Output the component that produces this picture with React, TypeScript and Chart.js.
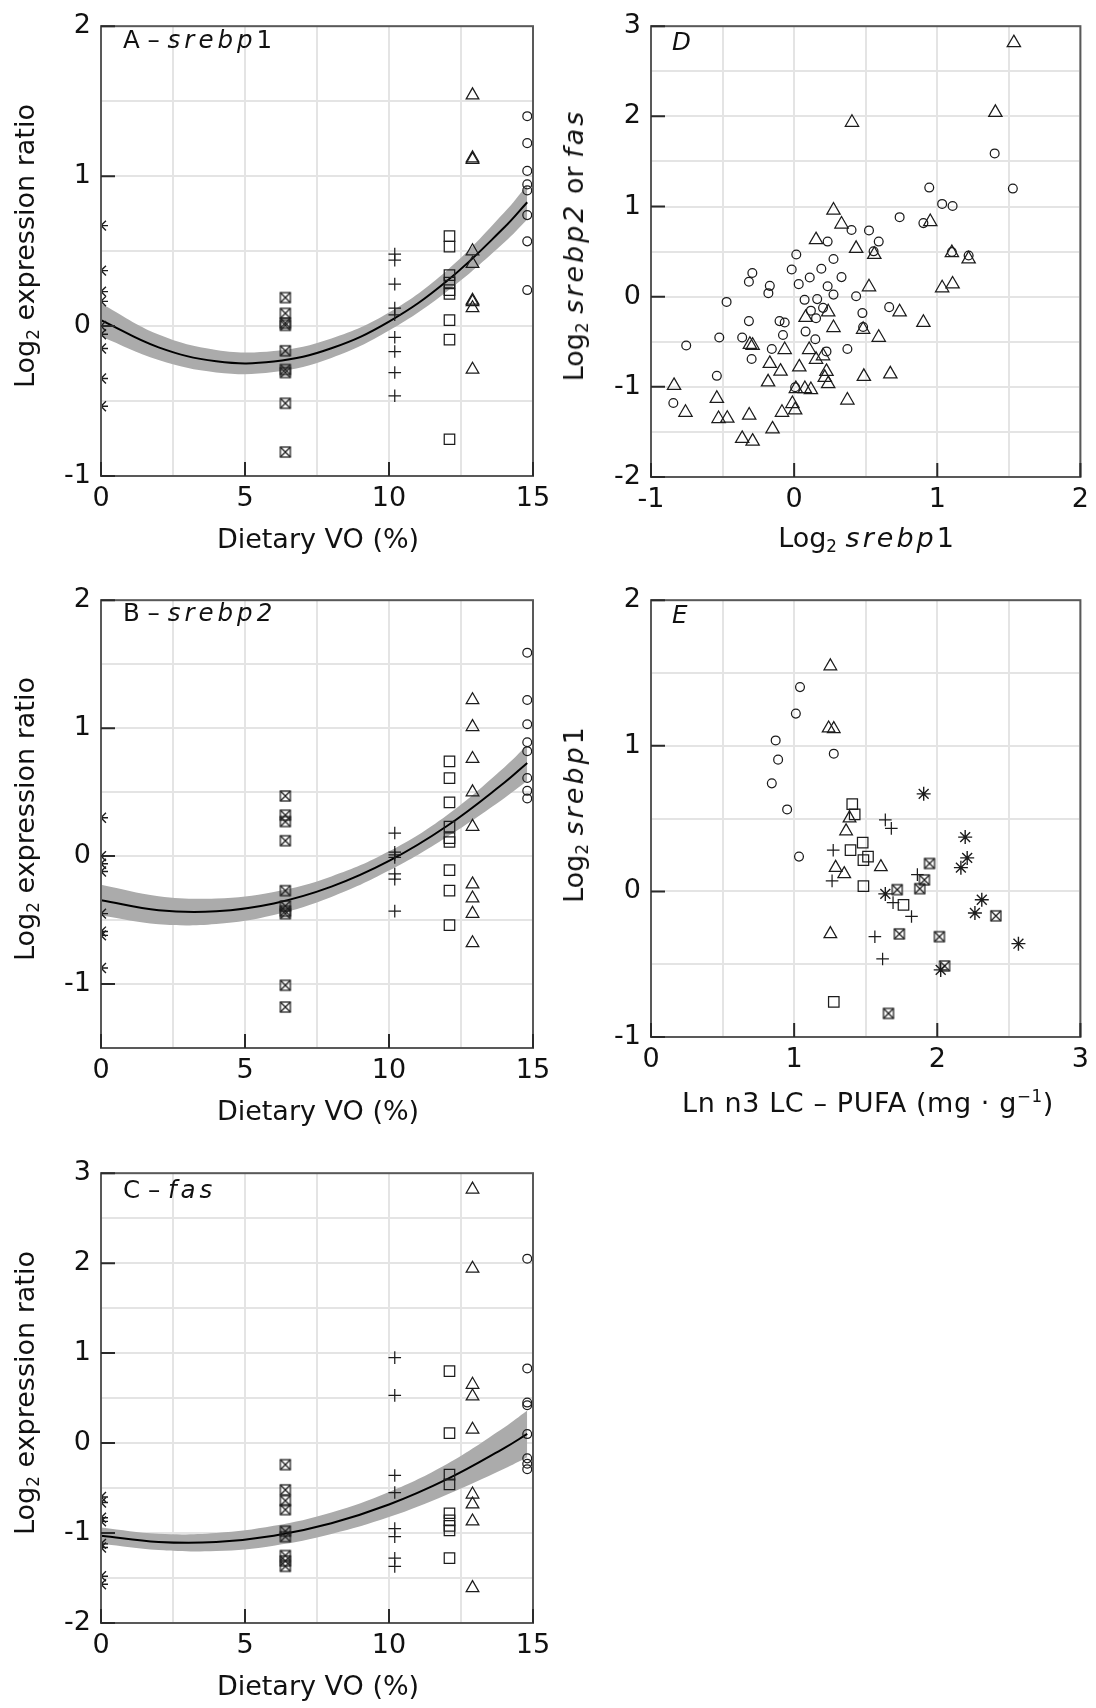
import React, { useEffect, useRef } from "react";
import { Chart, registerables } from "chart.js";

Chart.register(...registerables);

const FONT = '"DejaVu Sans", Verdana, sans-serif';
const INK = "#1c1c1c";

// ---------- shared ----------
// dietary vegetable-oil level (%) of the six diet groups
const VO_LEVELS = [0, 6.4, 10.2, 12.1, 12.9, 14.8];
// marker of each diet group (same order as VO_LEVELS)
const GROUP_MARKERS = ["star", "xsquare", "cross", "rect", "triangle", "circle"];
// x values of the fitted quadratic curve and its confidence band
const FIT_X = [0, 2, 4, 6, 8, 10, 12, 14, 14.8];

// ---------- Panel A: srebp1 ----------
const A_VO0 = [0.67, 0.37, 0.23, 0.165, 0.0, -0.055, -0.15, -0.35, -0.535];
const A_VO64 = [0.19, 0.085, 0.02, 0.005, -0.165, -0.29, -0.31, -0.515, -0.84];
const A_VO102 = [0.48, 0.44, 0.28, 0.12, 0.075, -0.075, -0.17, -0.31, -0.465];
const A_VO121 = [0.6, 0.53, 0.34, 0.29, 0.24, 0.215, 0.04, -0.09, -0.755];
const A_VO129 = [1.54, 1.12, 1.11, 0.5, 0.415, 0.17, 0.16, 0.12, -0.29];
const A_VO148 = [1.4, 1.22, 1.035, 0.945, 0.905, 0.74, 0.565, 0.24];
const A_FIT = [0.04, -0.142, -0.234, -0.237, -0.148, 0.03, 0.299, 0.657, 0.826];
const A_UPPER = [0.15, -0.057, -0.159, -0.167, -0.083, 0.09, 0.369, 0.757, 0.941];
const A_LOWER = [-0.07, -0.227, -0.309, -0.307, -0.213, -0.03, 0.229, 0.557, 0.711];

// ---------- Panel B: srebp2 ----------
const B_VO0 = [0.3, 0.0, -0.06, -0.12, -0.45, -0.59, -0.62, -0.875];
const B_VO64 = [0.47, 0.32, 0.27, 0.12, -0.27, -0.39, -0.43, -0.45, -1.01, -1.18];
const B_VO102 = [0.18, 0.03, 0.01, -0.01, -0.14, -0.18, -0.43];
const B_VO121 = [0.74, 0.61, 0.42, 0.23, 0.14, 0.11, -0.11, -0.27, -0.54];
const B_VO129 = [1.22, 1.01, 0.76, 0.5, 0.23, -0.22, -0.33, -0.45, -0.68];
const B_VO148 = [1.59, 1.22, 1.03, 0.89, 0.82, 0.61, 0.51, 0.45];
const B_FIT = [-0.345, -0.423, -0.431, -0.37, -0.239, -0.038, 0.233, 0.573, 0.728];
const B_UPPER = [-0.225, -0.313, -0.331, -0.28, -0.159, 0.037, 0.318, 0.693, 0.868];
const B_LOWER = [-0.465, -0.533, -0.531, -0.46, -0.319, -0.113, 0.148, 0.453, 0.588];

// ---------- Panel C: fas ----------
const C_VO0 = [-0.6, -0.66, -0.83, -0.87, -1.12, -1.16, -1.48, -1.57];
const C_VO64 = [-0.24, -0.52, -0.64, -0.74, -0.98, -1.04, -1.25, -1.31, -1.37];
const C_VO102 = [0.95, 0.53, -0.36, -0.55, -0.95, -1.04, -1.28, -1.37];
const C_VO121 = [0.8, 0.11, -0.35, -0.46, -0.78, -0.86, -0.92, -0.97, -1.28];
const C_VO129 = [2.82, 1.94, 0.65, 0.52, 0.15, -0.57, -0.68, -0.87, -1.61];
const C_VO148 = [2.05, 0.83, 0.45, 0.42, 0.1, -0.17, -0.23, -0.29];
const C_FIT = [-1.029, -1.099, -1.1, -1.03, -0.891, -0.683, -0.404, -0.056, 0.102];
const C_UPPER = [-0.939, -1.009, -1.0, -0.92, -0.771, -0.543, -0.234, 0.174, 0.362];
const C_LOWER = [-1.119, -1.189, -1.2, -1.14, -1.011, -0.823, -0.574, -0.286, -0.158];

// ---------- Panel D: srebp2 (circles) and fas (triangles) vs srebp1 ----------
const D_SREBP1_C = [1.401, 1.528, 0.944, 1.034, 1.107, 0.737, 0.903, 0.401, 0.523, 0.591, 0.234, 0.555, 0.015, 0.275, 1.102, 1.219, -0.292, -0.316, -0.017, 0.19, 0.109, 0.331, -0.17, -0.18, 0.032, 0.234, 0.275, 0.433, -0.472, 0.073, 0.161, 0.117, 0.202, 0.664, 0.477, -0.316, -0.102, -0.066, 0.153, 0.482, 0.08, -0.523, -0.363, -0.078, 0.148, -0.754, -0.156, 0.372, 0.226, -0.297, -0.54, 0.007, -0.844];
const D_SREBP2 = [1.589, 1.199, 1.21, 1.029, 1.005, 0.882, 0.816, 0.739, 0.735, 0.611, 0.611, 0.503, 0.468, 0.418, 0.495, 0.456, 0.263, 0.166, 0.302, 0.309, 0.213, 0.217, 0.12, 0.039, 0.139, 0.116, 0.023, 0.004, -0.058, -0.035, -0.027, -0.155, -0.124, -0.116, -0.182, -0.271, -0.271, -0.286, -0.24, -0.336, -0.387, -0.452, -0.452, -0.425, -0.472, -0.541, -0.58, -0.58, -0.607, -0.692, -0.878, -1.005, -1.179];
const D_SREBP1_T = [1.535, 1.406, 0.404, 0.275, 0.331, 0.153, 0.433, 0.56, 0.951, 1.102, 1.219, 1.034, 1.107, 0.523, 0.737, 0.903, 0.238, 0.08, 0.275, 0.482, 0.591, -0.309, -0.29, -0.066, 0.105, 0.153, 0.202, -0.17, 0.036, -0.095, 0.226, 0.214, -0.182, 0.238, 0.487, 0.672, -0.839, 0.012, 0.075, 0.117, 0.372, -0.54, -0.759, -0.314, -0.528, -0.467, -0.085, -0.012, 0.007, -0.151, -0.363, -0.29];
const D_FAS = [2.815, 2.042, 1.933, 0.959, 0.804, 0.63, 0.534, 0.468, 0.831, 0.487, 0.418, 0.097, 0.139, 0.108, -0.17, -0.286, -0.17, -0.232, -0.344, -0.363, -0.452, -0.53, -0.541, -0.588, -0.588, -0.696, -0.657, -0.742, -0.781, -0.828, -0.831, -0.897, -0.947, -0.967, -0.886, -0.858, -0.986, -1.021, -1.021, -1.032, -1.148, -1.129, -1.284, -1.315, -1.353, -1.35, -1.284, -1.187, -1.257, -1.469, -1.574, -1.605];

// ---------- Panel E: srebp1 vs ln n3 LC-PUFA, per diet group ----------
const E_X_VO0 = [1.905, 2.195, 2.209, 2.165, 1.637, 2.311, 2.263, 2.024, 2.567];
const E_Y_VO0 = [0.67, 0.373, 0.23, 0.163, -0.017, -0.057, -0.148, -0.539, -0.359];
const E_X_VO64 = [1.946, 1.91, 1.878, 1.72, 1.735, 2.015, 2.051, 2.409, 1.659];
const E_Y_VO64 = [0.192, 0.079, 0.019, 0.012, -0.292, -0.311, -0.512, -0.168, -0.838];
const E_X_VO102 = [1.273, 1.265, 1.637, 1.679, 1.861, 1.691, 1.82, 1.564, 1.618];
const E_Y_VO102 = [0.283, 0.072, 0.491, 0.433, 0.115, -0.077, -0.172, -0.311, -0.464];
const E_X_VO121 = [1.406, 1.423, 1.479, 1.394, 1.516, 1.484, 1.484, 1.764, 1.277];
const E_Y_VO121 = [0.599, 0.529, 0.335, 0.283, 0.239, 0.215, 0.036, -0.093, -0.759];
const E_X_VO129 = [1.253, 1.241, 1.277, 1.387, 1.363, 1.29, 1.35, 1.606, 1.253];
const E_Y_VO129 = [1.547, 1.12, 1.116, 0.503, 0.414, 0.163, 0.12, 0.168, -0.292];
const E_X_VO148 = [1.041, 1.012, 0.871, 0.888, 0.844, 1.277, 0.951, 1.034];
const E_Y_VO148 = [1.403, 1.221, 1.037, 0.905, 0.742, 0.946, 0.563, 0.239];

// ---------- tick labels ----------
const X_LABELS_VO = [0, 5, 10, 15];
const Y_LABELS_A = [-1, 0, 1, 2];
const Y_LABELS_B = [-1, 0, 1, 2];
const Y_LABELS_C = [-2, -1, 0, 1, 2, 3];
const X_LABELS_D = [-1, 0, 1, 2];
const Y_LABELS_D = [-2, -1, 0, 1, 2, 3];
const X_LABELS_E = [0, 1, 2, 3];
const Y_LABELS_E = [-1, 0, 1, 2];

// ---------- helpers ----------
let xSquareImg: HTMLCanvasElement | null = null;
function crossedSquare() {
  if (xSquareImg) return xSquareImg;
  const c = document.createElement("canvas");
  c.width = 14;
  c.height = 14;
  const g = c.getContext("2d")!;
  g.strokeStyle = INK;
  g.lineWidth = 1.25;
  g.strokeRect(2, 2, 10, 10);
  g.beginPath();
  g.moveTo(2, 2);
  g.lineTo(12, 12);
  g.moveTo(12, 2);
  g.lineTo(2, 12);
  g.stroke();
  xSquareImg = c;
  return c;
}

function markerProps(kind: string, big = false) {
  switch (kind) {
    case "star":
      return { pointStyle: "star", pointRadius: 7 };
    case "xsquare":
      return { pointStyle: crossedSquare(), pointRadius: 7 };
    case "cross":
      return { pointStyle: "cross", pointRadius: 6.3 };
    case "rect":
      return { pointStyle: "rect", pointRadius: 7.4 };
    case "triangle":
      return { pointStyle: "triangle", pointRadius: big ? 7.7 : 7.3 };
    default:
      return { pointStyle: "circle", pointRadius: 4.4 };
  }
}

function scatterSet(points: { x: number; y: number }[], kind: string, big = false) {
  return {
    type: "scatter",
    data: points,
    ...markerProps(kind, big),
    borderColor: INK,
    pointBorderColor: INK,
    backgroundColor: "rgba(0,0,0,0)",
    pointBackgroundColor: "rgba(0,0,0,0)",
    pointBorderWidth: kind === "star" ? 1.4 : 1.25,
    borderWidth: 1.25,
    order: 0,
    clip: 0,
  };
}

function curveSets(fit: number[], upper: number[], lower: number[]) {
  const toPts = (ys: number[]) => FIT_X.map((x, i) => ({ x, y: ys[i] }));
  return [
    {
      type: "line",
      data: toPts(fit),
      borderColor: "#000",
      borderWidth: 2,
      pointRadius: 0,
      tension: 0.4,
      fill: false,
      order: 1,
      clip: 0,
    },
    {
      type: "line",
      data: toPts(upper),
      borderColor: "rgba(0,0,0,0)",
      borderWidth: 0,
      pointRadius: 0,
      tension: 0.4,
      fill: "+1",
      backgroundColor: "#ababab",
      order: 2,
      clip: 0,
    },
    {
      type: "line",
      data: toPts(lower),
      borderColor: "rgba(0,0,0,0)",
      borderWidth: 0,
      pointRadius: 0,
      tension: 0.4,
      fill: false,
      order: 3,
      clip: 0,
    },
  ];
}

function voDatasets(groups: number[][], fit: number[], upper: number[], lower: number[]) {
  const pts = groups.map((ys, gi) =>
    scatterSet(
      ys.map((y) => ({ x: VO_LEVELS[gi], y })),
      GROUP_MARKERS[gi]
    )
  );
  return [...pts, ...curveSets(fit, upper, lower)];
}

function pairs(xs: number[], ys: number[]) {
  return xs.map((x, i) => ({ x, y: ys[i] }));
}

const isLabel = (labels: number[], v: number) => labels.some((l) => Math.abs(l - v) < 1e-6);

const framePlugin = {
  id: "frame",
  afterDatasetsDraw(chart: any, _args: any, opts: any) {
    const { ctx, chartArea } = chart;
    const { left, right, top, bottom } = chartArea;
    ctx.save();
    ctx.strokeStyle = "#595959";
    ctx.lineWidth = 2;
    ctx.strokeRect(left, top, right - left, bottom - top);
    ctx.strokeStyle = "#2a2a2a";
    ctx.beginPath();
    for (const v of opts.xMajor) {
      const p = chart.scales.x.getPixelForValue(v);
      ctx.moveTo(p, bottom);
      ctx.lineTo(p, bottom - 14);
    }
    for (const v of opts.yMajor) {
      const p = chart.scales.y.getPixelForValue(v);
      ctx.moveTo(left, p);
      ctx.lineTo(left + 14, p);
    }
    ctx.stroke();
    ctx.restore();
  },
};

type PanelCfg = {
  datasets: any[];
  xMin: number;
  xMax: number;
  xStep: number;
  xLabels: number[];
  yMin: number;
  yMax: number;
  yStep: number;
  yLabels: number[];
};

function buildConfig(p: PanelCfg, padRight: number): any {
  const tickFont = { family: FONT, size: 27 };
  const grid = { color: "#e4e4e4", lineWidth: 2, drawTicks: false };
  return {
    type: "scatter",
    data: { datasets: p.datasets },
    plugins: [framePlugin],
    options: {
      responsive: false,
      animation: false,
      events: [],
      devicePixelRatio: 1,
      layout: { autoPadding: false, padding: { top: 15, right: padRight, left: 0, bottom: 0 } },
      plugins: {
        legend: { display: false },
        tooltip: { enabled: false },
        frame: { xMajor: p.xLabels, yMajor: p.yLabels },
      },
      scales: {
        x: {
          type: "linear",
          min: p.xMin,
          max: p.xMax,
          grid,
          border: { display: false },
          ticks: {
            stepSize: p.xStep,
            autoSkip: false,
            maxRotation: 0,
            padding: 7,
            color: "#111",
            font: tickFont,
            callback: (v: number) => (isLabel(p.xLabels, v) ? String(v) : ""),
          },
          afterFit: (s: any) => {
            s.height = 50;
          },
        },
        y: {
          type: "linear",
          min: p.yMin,
          max: p.yMax,
          grid,
          border: { display: false },
          ticks: {
            stepSize: p.yStep,
            autoSkip: false,
            padding: 10,
            color: "#111",
            font: tickFont,
            callback: (v: number) => (isLabel(p.yLabels, v) ? String(v) : ""),
          },
          afterFit: (s: any) => {
            s.width = 101;
          },
        },
      },
    },
  };
}

function PanelChart(props: {
  make: () => PanelCfg;
  left: number;
  top: number;
  width: number;
  height: number;
  padRight: number;
}) {
  const ref = useRef<HTMLCanvasElement>(null);
  useEffect(() => {
    const chart = new Chart(ref.current!, buildConfig(props.make(), props.padRight));
    return () => chart.destroy();
  }, []);
  return (
    <canvas
      ref={ref}
      width={props.width}
      height={props.height}
      style={{ position: "absolute", left: props.left, top: props.top, width: props.width, height: props.height }}
    />
  );
}

const sub = (t: string) => (
  <sub style={{ fontSize: "0.62em", verticalAlign: "-0.28em", lineHeight: 0 }}>{t}</sub>
);
const sup = (t: string) => (
  <sup style={{ fontSize: "0.62em", verticalAlign: "0.6em", lineHeight: 0 }}>{t}</sup>
);
const it = (t: string, sp = 3) => <i style={{ letterSpacing: `${sp}px` }}>{t}</i>;

const textBase: any = {
  position: "absolute",
  font: `27px ${FONT}`,
  lineHeight: "32px",
  color: "#111",
  whiteSpace: "nowrap",
};

function YTitle(props: { x: number; y: number; children: any }) {
  return (
    <div style={{ ...textBase, left: props.x, top: props.y, transform: "translate(-50%, -50%) rotate(-90deg)" }}>
      {props.children}
    </div>
  );
}

function XTitle(props: { x: number; top: number; spacing?: number; children: any }) {
  return (
    <div
      style={{
        ...textBase,
        left: props.x,
        top: props.top,
        letterSpacing: `${props.spacing || 0}px`,
        transform: "translateX(-50%)",
      }}
    >
      {props.children}
    </div>
  );
}

function PanelLabel(props: { x: number; top: number; children: any }) {
  return (
    <div style={{ ...textBase, font: `24.5px ${FONT}`, lineHeight: "30px", left: props.x, top: props.top }}>
      {props.children}
    </div>
  );
}

const makeA = (): PanelCfg => ({
  datasets: voDatasets([A_VO0, A_VO64, A_VO102, A_VO121, A_VO129, A_VO148], A_FIT, A_UPPER, A_LOWER),
  xMin: 0, xMax: 15, xStep: 2.5, xLabels: X_LABELS_VO,
  yMin: -1, yMax: 2, yStep: 0.5, yLabels: Y_LABELS_A,
});
const makeB = (): PanelCfg => ({
  datasets: voDatasets([B_VO0, B_VO64, B_VO102, B_VO121, B_VO129, B_VO148], B_FIT, B_UPPER, B_LOWER),
  xMin: 0, xMax: 15, xStep: 2.5, xLabels: X_LABELS_VO,
  yMin: -1.5, yMax: 2, yStep: 0.5, yLabels: Y_LABELS_B,
});
const makeC = (): PanelCfg => ({
  datasets: voDatasets([C_VO0, C_VO64, C_VO102, C_VO121, C_VO129, C_VO148], C_FIT, C_UPPER, C_LOWER),
  xMin: 0, xMax: 15, xStep: 2.5, xLabels: X_LABELS_VO,
  yMin: -2, yMax: 3, yStep: 0.5, yLabels: Y_LABELS_C,
});
const makeD = (): PanelCfg => ({
  datasets: [
    scatterSet(pairs(D_SREBP1_C, D_SREBP2), "circle", true),
    scatterSet(pairs(D_SREBP1_T, D_FAS), "triangle", true),
  ],
  xMin: -1, xMax: 2, xStep: 0.5, xLabels: X_LABELS_D,
  yMin: -2, yMax: 3, yStep: 0.5, yLabels: Y_LABELS_D,
});
const makeE = (): PanelCfg => ({
  datasets: [
    scatterSet(pairs(E_X_VO0, E_Y_VO0), GROUP_MARKERS[0]),
    scatterSet(pairs(E_X_VO64, E_Y_VO64), GROUP_MARKERS[1]),
    scatterSet(pairs(E_X_VO102, E_Y_VO102), GROUP_MARKERS[2]),
    scatterSet(pairs(E_X_VO121, E_Y_VO121), GROUP_MARKERS[3]),
    scatterSet(pairs(E_X_VO129, E_Y_VO129), GROUP_MARKERS[4]),
    scatterSet(pairs(E_X_VO148, E_Y_VO148), GROUP_MARKERS[5]),
  ],
  xMin: 0, xMax: 3, xStep: 0.5, xLabels: X_LABELS_E,
  yMin: -1, yMax: 2, yStep: 0.5, yLabels: Y_LABELS_E,
});

export default function App() {
  return (
    <div style={{ position: "absolute", left: 0, top: 0, width: 1096, height: 1708, background: "#fff", overflow: "hidden" }}>
      <PanelChart make={makeA} left={0} top={0} width={565} height={526} padRight={32} />
      <PanelChart make={makeB} left={0} top={574} width={565} height={524} padRight={32} />
      <PanelChart make={makeC} left={0} top={1147} width={565} height={526} padRight={32} />
      <PanelChart make={makeD} left={550} top={0} width={546} height={527} padRight={14} />
      <PanelChart make={makeE} left={550} top={574} width={546} height={513} padRight={14} />

      <YTitle x={24.5} y={246}>Log{sub("2")} expression ratio</YTitle>
      <YTitle x={24.5} y={819}>Log{sub("2")} expression ratio</YTitle>
      <YTitle x={24.5} y={1393}>Log{sub("2")} expression ratio</YTitle>
      <YTitle x={573.5} y={245}>Log{sub("2")} {it("srebp2")} or {it("fas")}</YTitle>
      <YTitle x={573.5} y={815}>Log{sub("2")} {it("srebp")}1</YTitle>

      <XTitle x={318} top={523}>Dietary VO (%)</XTitle>
      <XTitle x={318} top={1095}>Dietary VO (%)</XTitle>
      <XTitle x={318} top={1670}>Dietary VO (%)</XTitle>
      <XTitle x={866} top={522}>Log{sub("2")} {it("srebp")}1</XTitle>
      <XTitle x={868} top={1087} spacing={0.6}>Ln n3 LC – PUFA (mg · g{sup("−1")})</XTitle>

      <PanelLabel x={123} top={24.5}>A – {it("srebp", 4)}1</PanelLabel>
      <PanelLabel x={123} top={597.5}>B – {it("srebp2", 4)}</PanelLabel>
      <PanelLabel x={123} top={1174.5}>C – {it("fas", 4)}</PanelLabel>
      <PanelLabel x={672} top={26.5}><i>D</i></PanelLabel>
      <PanelLabel x={672} top={600}><i>E</i></PanelLabel>
    </div>
  );
}
